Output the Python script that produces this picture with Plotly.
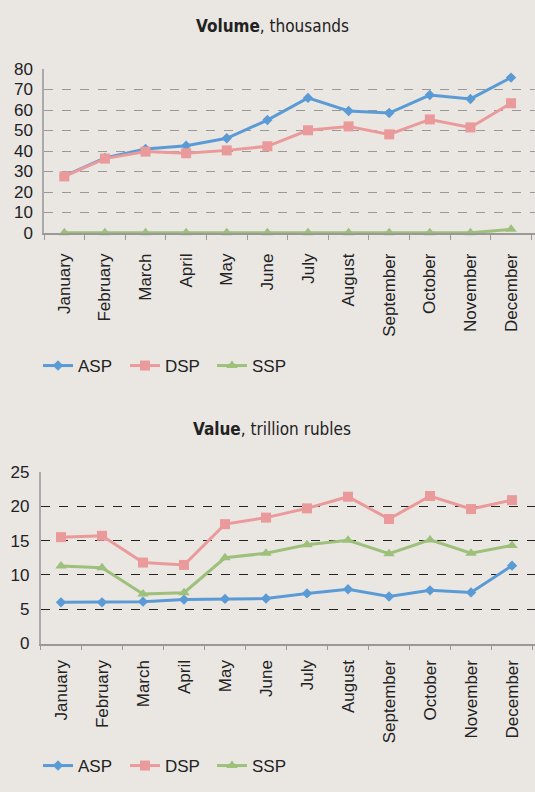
import plotly.graph_objects as go

months = ["January", "February", "March", "April", "May", "June", "July",
          "August", "September", "October", "November", "December"]

vol_asp = [27.8, 36.6, 41.0, 42.6, 46.2, 55.1, 65.9, 59.5, 58.5, 67.3, 65.4, 75.8]
vol_dsp = [27.6, 36.3, 39.7, 38.9, 40.3, 42.3, 50.1, 52.0, 48.1, 55.4, 51.5, 63.3]
vol_ssp = [0.1, 0.1, 0.1, 0.1, 0.1, 0.1, 0.1, 0.1, 0.1, 0.1, 0.1, 1.8]

val_asp = [6.0, 6.0, 6.1, 6.4, 6.5, 6.55, 7.3, 7.9, 6.85, 7.75, 7.45, 11.35]
val_dsp = [15.5, 15.7, 11.8, 11.45, 17.4, 18.35, 19.7, 21.4, 18.15, 21.5, 19.6, 20.9]
val_ssp = [11.3, 11.05, 7.2, 7.4, 12.5, 13.15, 14.4, 15.05, 13.1, 15.1, 13.15, 14.3]

series_names = ["ASP", "DSP", "SSP"]
colors = {"ASP": "#5B9BD5", "DSP": "#EA9A9A", "SSP": "#9DC07A"}
symbols = {"ASP": "diamond", "DSP": "square", "SSP": "triangle-up"}
sizes = {"ASP": 8, "DSP": 10, "SSP": 10}

W, H = 535, 792
BG = "#EAE6E2"
FONT = "Liberation Sans, Arial, sans-serif"
TFONT = "DejaVu Sans Condensed, " + FONT

fig = go.Figure()

for name, vals in zip(series_names, [vol_asp, vol_dsp, vol_ssp]):
    fig.add_trace(go.Scatter(
        x=months, y=vals, name=name, mode="lines+markers",
        line=dict(color=colors[name], width=3),
        marker=dict(symbol=symbols[name], size=sizes[name], color=colors[name]),
        xaxis="x", yaxis="y", legend="legend", cliponaxis=False,
    ))

for name, vals in zip(series_names, [val_asp, val_dsp, val_ssp]):
    fig.add_trace(go.Scatter(
        x=months, y=vals, name=name, mode="lines+markers",
        line=dict(color=colors[name], width=3),
        marker=dict(symbol=symbols[name], size=sizes[name], color=colors[name]),
        xaxis="x2", yaxis="y2", legend="legend2", cliponaxis=False,
    ))

def py(px):
    return 1 - px / H

def px_(x):
    return x / W

xcommon = dict(
    type="category", tickson="boundaries", ticks="outside", ticklen=5,
    tickcolor="#999999", showline=True, linecolor="#999999", linewidth=1.5,
    showgrid=False, tickangle=-90, zeroline=False, automargin=False,
    tickfont=dict(family=FONT, size=17, color="#222222"),
)
ycommon = dict(
    showline=True, linecolor="#AAAAAA", linewidth=1.5, ticks="",
    zeroline=False, griddash="dash", automargin=False, ticklabelstandoff=6,
    tickfont=dict(family=FONT, size=17, color="#222222"),
)

legend_common = dict(orientation="h", xanchor="left", yanchor="top",
                     bgcolor="rgba(0,0,0,0)", font=dict(family=FONT, size=17, color="#222222"),
                     itemwidth=30, tracegroupgap=0, entrywidth=42, entrywidthmode="pixels")

fig.update_layout(
    width=W, height=H, paper_bgcolor=BG, plot_bgcolor=BG,
    margin=dict(l=0, r=0, t=0, b=0, pad=0, autoexpand=False),
    showlegend=True,
    xaxis=dict(**xcommon, domain=[px_(44), 1], range=[-0.5, 11.59], anchor="y",
               ticklabelstandoff=12),
    yaxis=dict(**ycommon, domain=[py(233), py(69)], range=[0, 80], dtick=10,
               gridcolor="#999999", gridwidth=1.2, anchor="x"),
    xaxis2=dict(**xcommon, domain=[px_(40.5), 1], range=[-0.5, 11.56], anchor="y2",
                ticklabelstandoff=8),
    yaxis2=dict(**ycommon, domain=[py(643.5), py(472)], range=[0, 25], dtick=5,
                gridcolor="#222222", gridwidth=1, anchor="x2"),
    legend=dict(**legend_common, x=px_(38), y=py(348)),
    legend2=dict(**legend_common, x=px_(38), y=py(748)),
    annotations=[
        dict(text="<b>Volume</b>, thousands", x=px_(272), y=py(26), xref="paper", yref="paper",
             showarrow=False, xanchor="center", yanchor="middle",
             font=dict(family=TFONT, size=17, color="#222222")),
        dict(text="<b>Value</b>, trillion rubles", x=px_(272), y=py(429), xref="paper", yref="paper",
             showarrow=False, xanchor="center", yanchor="middle",
             font=dict(family=TFONT, size=17, color="#222222")),
    ],
)

fig.write_html("out.html", config={"displayModeBar": False},
               post_script="document.body.style.margin='0px';document.body.style.overflow='hidden';")
